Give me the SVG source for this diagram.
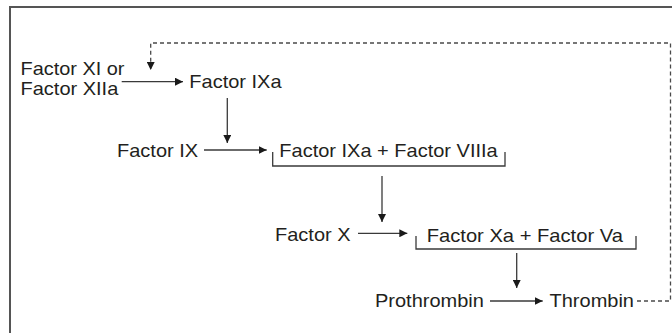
<svg xmlns="http://www.w3.org/2000/svg" width="672" height="333" viewBox="0 0 672 333">
  <style>
    .lbl { font-family: "Liberation Sans", Arial, sans-serif; font-size: 18.2px; fill: #231f20; }
    .ln { stroke: #3a3a3a; stroke-width: 1.3; fill: none; }
    .dash { stroke: #4a4a4a; stroke-width: 1.3; fill: none; stroke-dasharray: 4 3; }
    .frame { stroke: #555; stroke-width: 2; fill: none; }
  </style>
  <defs>
    <marker id="head" markerUnits="userSpaceOnUse" markerWidth="9" markerHeight="8" refX="8" refY="4" orient="auto">
      <path d="M0,0 L8,4 L0,8 Z" fill="#1a1a1a"/>
    </marker>
  </defs>

  <rect width="672" height="333" fill="#fff"/>
  <!-- outer frame (open to the right and bottom) -->
  <path class="frame" d="M10,333 V7 H672"/>

  <g id="factor-xi-xiia">
    <text class="lbl" x="20.5" y="75" textLength="104" lengthAdjust="spacingAndGlyphs">Factor XI or</text>
    <text class="lbl" x="20.5" y="94.5" textLength="97.8" lengthAdjust="spacingAndGlyphs">Factor XIIa</text>
  </g>
  <g id="factor-ixa">
    <text class="lbl" x="189.3" y="88" textLength="92.3" lengthAdjust="spacingAndGlyphs">Factor IXa</text>
  </g>
  <g id="factor-ix">
    <text class="lbl" x="117" y="156.5" textLength="81.1" lengthAdjust="spacingAndGlyphs">Factor IX</text>
  </g>
  <g id="tenase">
    <text class="lbl" x="279.3" y="156.5" textLength="218.4" lengthAdjust="spacingAndGlyphs">Factor IXa + Factor VIIIa</text>
    <path class="ln" d="M272.7,152 V166 H505 V152"/>
  </g>
  <g id="factor-x">
    <text class="lbl" x="275" y="240.5" textLength="75.6" lengthAdjust="spacingAndGlyphs">Factor X</text>
  </g>
  <g id="prothrombinase">
    <text class="lbl" x="426.7" y="241.5" textLength="196.2" lengthAdjust="spacingAndGlyphs">Factor Xa + Factor Va</text>
    <path class="ln" d="M416,236 V249 H636 V236"/>
  </g>
  <g id="prothrombin">
    <text class="lbl" x="375" y="307" textLength="108.9" lengthAdjust="spacingAndGlyphs">Prothrombin</text>
  </g>
  <g id="thrombin">
    <text class="lbl" x="549.5" y="307" textLength="84.5" lengthAdjust="spacingAndGlyphs">Thrombin</text>
  </g>

  <g id="connectors">
    <path class="ln" d="M121.7,81.7 H183" marker-end="url(#head)"/>
    <path class="ln" d="M227.3,98 V143" marker-end="url(#head)"/>
    <path class="ln" d="M204,150 H266.7" marker-end="url(#head)"/>
    <path class="ln" d="M382,176 V222" marker-end="url(#head)"/>
    <path class="ln" d="M358,233.3 H407.3" marker-end="url(#head)"/>
    <path class="ln" d="M516.7,253 V288" marker-end="url(#head)"/>
    <path class="ln" d="M490,301 H542.7" marker-end="url(#head)"/>
    <!-- thrombin feedback loop -->
    <path class="dash" d="M637,301 H670.5 V43 H150.7 V70" marker-end="url(#head)"/>
  </g>
</svg>
